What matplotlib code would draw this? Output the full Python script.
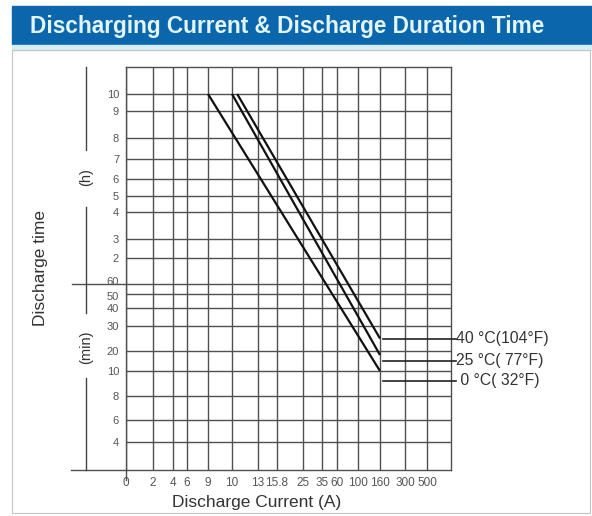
import numpy as np
import matplotlib
matplotlib.use('Agg')
import matplotlib.pyplot as plt
import matplotlib.transforms as mtransforms
from matplotlib.patches import Rectangle

plt.rcParams['font.family'] = ['Liberation Sans', 'DejaVu Sans']

# ---- data ----
current_ticks = [0, 2, 4, 6, 9, 10, 13, 15.8, 25, 35, 60, 100, 160, 300, 500]
current_labels = ['0', '2', '4', '6', '9', '10', '13', '15.8', '25', '35', '60', '100', '160', '300', '500']
hour_ticks = [10, 9, 8, 7, 6, 5, 4, 3, 2]          # hours
min_ticks = [60, 50, 40, 30, 20, 10, 8, 6, 4]      # minutes

temp_labels = ['40 °C(104°F)', '25 °C( 77°F)', ' 0 °C( 32°F)']
start_current = [10.6, 10.0, 9.0]      # A, at the 10 h line
start_time = [600, 600, 600]           # min
end_current = [160, 160, 160]          # A
end_time = [25, 18, 10]                # min
label_time = [25, 15, 9.2]             # min, leader lines

# ---- the printed chart's uneven axis layout (knots for a piecewise scale) ----
x_knot_val = current_ticks + [800]
x_knot_pos = [126, 153, 173, 187, 208, 232, 258, 277, 303, 322, 337, 358, 380, 405, 427, 451]
y_knot_val = [0, 4, 6, 8, 10, 20, 30, 40, 50, 60, 120, 180, 240, 300, 360, 420, 480, 540, 600, 720]
y_knot_pix = [470, 442, 420, 396, 371, 351, 326, 308, 294, 284, 258, 239, 212, 196, 179, 159, 138, 111, 94, 67]
y_knot_pos = [470 - p for p in y_knot_pix]


def xf(v):
    return np.interp(v, x_knot_val, x_knot_pos)


def xi(p):
    return np.interp(p, x_knot_pos, x_knot_val)


def yf(v):
    return np.interp(v, y_knot_val, y_knot_pos)


def yi(p):
    return np.interp(p, y_knot_pos, y_knot_val)


W, H = 592, 516
fig = plt.figure(figsize=(W / 100, H / 100), dpi=100)

# header band and panel frame
fig.patches.append(Rectangle((12 / W, 1 - 45 / H), 580 / W, 39 / H, transform=fig.transFigure,
                             color='#0b66ab', zorder=0))
fig.patches.append(Rectangle((12 / W, 1 - 50 / H), 580 / W, 5 / H, transform=fig.transFigure,
                             color='#d4eef8', zorder=0))
fig.patches.append(Rectangle((12 / W, 1 - 513 / H), 578 / W, 463 / H, transform=fig.transFigure,
                             fill=False, ec='#c4c4c4', lw=0.8, zorder=0))
fig.text(30 / W, 1 - 27 / H, 'Discharging Current & Discharge Duration Time',
         color='#e2f6ff', fontsize=16.3, fontweight='bold', va='center', ha='left')

ax = fig.add_axes([126 / W, 1 - 470 / H, 325 / W, 403 / H])
ax.set_xscale('function', functions=(xf, xi))
ax.set_yscale('function', functions=(yf, yi))
ax.set_xlim(0, 800)
ax.set_ylim(0, 720)

grid_c = '#505050'
ax.set_xticks(current_ticks)
ax.set_xticklabels(current_labels)
yt = [h * 60 for h in hour_ticks] + min_ticks
ax.set_yticks(yt)
ax.set_yticklabels([str(v) for v in hour_ticks + min_ticks])
ax.tick_params(length=0, labelsize=8.5, labelcolor='#555555', pad=5)
ax.tick_params(axis='y', labelsize=8)
ax.grid(True, color=grid_c, lw=1.0)
for s in ax.spines.values():
    s.set_color(grid_c)
    s.set_linewidth(1.0)

# the 60 and 50 min labels sit very close; nudge them apart a little
for lab in ax.get_yticklabels():
    if lab.get_text() == '60':
        lab.set_transform(lab.get_transform() + mtransforms.ScaledTranslation(0, 2 / 72, fig.dpi_scale_trans))
    elif lab.get_text() == '50':
        lab.set_transform(lab.get_transform() + mtransforms.ScaledTranslation(0, -1.5 / 72, fig.dpi_scale_trans))

# discharge curves
for x0, y0, x1, y1 in zip(start_current, start_time, end_current, end_time):
    ax.plot([x0, x1], [y0, y1], color='#111111', lw=1.6, solid_capstyle='butt', zorder=3)

# leader lines and temperature labels
ty = ax.get_yaxis_transform()
for t, lab in zip(label_time, temp_labels):
    ax.plot([0.79, 1.015], [t, t], color='#222222', lw=1.2, transform=ty, clip_on=False, zorder=3)
    ax.text(1.015, t, lab, transform=ty, fontsize=11.3, color='#333333', va='center', ha='left')

# extended lines on the left (60 min divider and base line)
ax.plot([-0.166, 0], [60, 60], color=grid_c, lw=1.0, transform=ty, clip_on=False)
ax.plot([-0.17, 0], [0, 0], color=grid_c, lw=1.0, transform=ty, clip_on=False)
tx = ax.get_xaxis_transform()
ax.plot([0, 0], [0, -0.025], color=grid_c, lw=1.0, transform=tx, clip_on=False)

# (h) / (min) divider on the left
ta = ax.transAxes
dx = -0.123
for y0, y1 in [(1.0, 0.794), (0.653, 0.39), (0.228, 0.0)]:
    ax.plot([dx, dx], [y0, y1], color='#444444', lw=1.0, transform=ta, clip_on=False)
ax.text(dx, 0.727, '(h)', transform=ta, rotation=90, fontsize=10.5, color='#333333',
        ha='center', va='center')
ax.text(dx, 0.305, '(min)', transform=ta, rotation=90, fontsize=10.5, color='#333333',
        ha='center', va='center')

fig.text(40 / W, 1 - 268 / H, 'Discharge time', rotation=90, fontsize=12.5, color='#333333',
         ha='center', va='center')
fig.text(257 / W, 1 - 503 / H, 'Discharge Current (A)', fontsize=12.5, color='#333333',
         ha='center', va='center')

fig.savefig('out.png', dpi=100)
